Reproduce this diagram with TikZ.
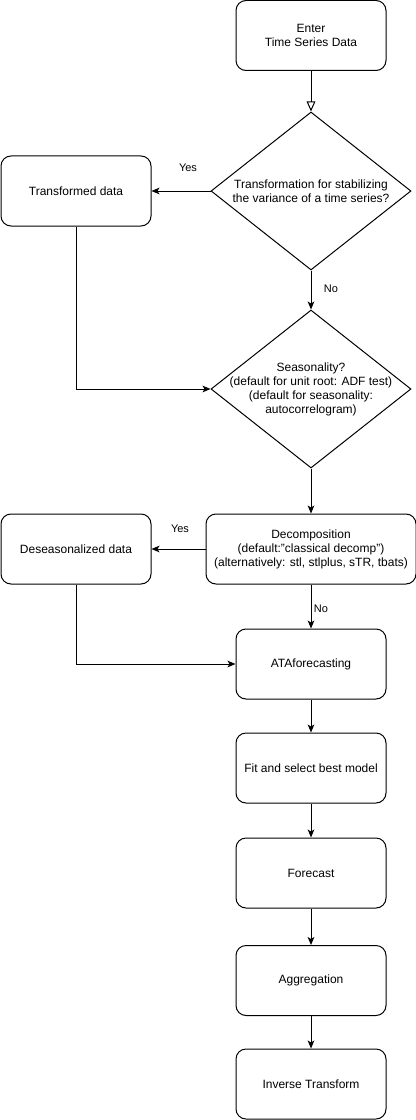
\documentclass[tikz,border=0pt]{standalone}
\usepackage{fontspec}
\setmainfont{Liberation Sans}
\usetikzlibrary{shapes.geometric,arrows.meta}

\begin{document}
\begin{tikzpicture}[x=0.75pt,y=-0.75pt,line width=0.75pt,
    every node/.style={font=\fontsize{9}{10.5}\selectfont},
    stepbox/.style={draw,rounded corners=7.5pt,minimum width=112.5pt,minimum height=52.5pt,align=center,inner sep=0pt},
    choice/.style={draw,shape=diamond,minimum width=150pt,minimum height=118.5pt,inner sep=0pt},
    flow/.style={-{Stealth[length=6pt,width=5pt,inset=1.5pt]}},
    edgetext/.style={font=\fontsize{8.25}{10}\selectfont}]
      \useasboundingbox (0,0) rectangle (416,1120);
      \node[stepbox] (enter) at (311, 35.5) {Enter\\Time Series Data};
      \node[choice,label={[align=center]center:Transformation for stabilizing\\the variance of a time series?}] (trans) at (311, 191) {};
      \node[stepbox] (tdata) at (76, 191) {Transformed data};
      \node[choice,label={[align=center]center:Seasonality?\\(default for unit root: ADF test)\\(default for seasonality:\\autocorrelogram)}] (seas) at (311, 389) {};
      \node[stepbox,minimum width=157.5pt] (decomp) at (311, 549) {Decomposition\\(default:"classical decomp")\\(alternatively: stl, stlplus, sTR, tbats)};
      \node[stepbox] (dseas) at (76, 549) {Deseasonalized data};
      \node[stepbox] (ata) at (311, 664) {ATAforecasting};
      \node[stepbox] (fit) at (311, 768) {Fit and select best model};
      \node[stepbox] (fcast) at (311, 873) {Forecast};
      \node[stepbox] (aggr) at (311, 980.5) {Aggregation};
      \node[stepbox] (inv) at (311, 1084) {Inverse Transform};
      \node[edgetext] (yes1) at (188, 168) {Yes};
      \node[edgetext] (no1) at (331, 289) {No};
      \node[edgetext] (yes2) at (180, 529) {Yes};
      \node[edgetext] (no2) at (321, 609) {No};
      \draw[-{Triangle[open,length=7.5pt,width=6.5pt]}] (enter.south) -- (trans.north);
      \draw[flow] (trans.west) -- (tdata.east);
      \draw[flow] (trans.south) -- (seas.north);
      \draw[flow] (tdata.south) |- (seas.west);
      \draw[flow] (seas.south) -- (decomp.north);
      \draw[flow] (decomp.west) -- (dseas.east);
      \draw[flow] (decomp.south) -- (ata.north);
      \draw[flow] (dseas.south) |- (ata.west);
      \draw[flow] (ata) -- (fit);
      \draw[flow] (fit) -- (fcast);
      \draw[flow] (fcast) -- (aggr);
      \draw[flow] (aggr) -- (inv);
    \end{tikzpicture}
\end{document}
